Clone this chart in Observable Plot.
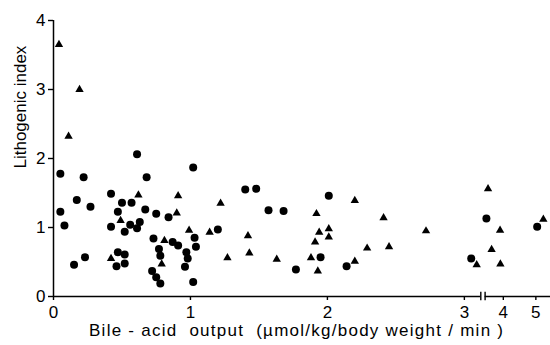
<!DOCTYPE html>
<html>
<head>
<meta charset="utf-8">
<script src="https://cdn.jsdelivr.net/npm/d3@7"></script>
<script src="https://cdn.jsdelivr.net/npm/@observablehq/plot@0.6"></script>
<style>
  html, body { margin: 0; padding: 0; background: #fff; }
</style>
</head>
<body>
<div id="chart"></div>
<script>
// Circles series: [bile-acid output, lithogenic index]
const circleX = [0.05,0.05,0.08,0.15,0.17,0.22,0.23,0.27,0.42,0.42,0.47,0.50,0.46,0.47,0.52,0.52,0.52,0.56,0.57,0.61,0.61,0.63,0.67,0.68,0.73,0.75,0.84,0.72,0.75,0.78,0.77,0.78,0.87,0.91,0.97,0.98,0.96,1.02,1.03,1.04,1.02,1.20,1.40,1.48,1.57,1.68,2.01,1.95,1.77,2.14,3.05,3.48,5.04];
const circleY = [1.78,1.23,1.03,0.46,1.40,1.73,0.57,1.30,1.49,1.01,1.23,1.36,0.44,0.64,0.61,0.48,0.94,1.04,1.36,2.06,0.99,1.08,1.26,1.73,0.84,1.20,1.15,0.37,0.28,0.19,0.69,0.59,0.79,0.74,0.64,0.55,0.43,1.87,0.85,0.72,0.21,0.97,1.55,1.56,1.25,1.24,1.46,0.57,0.39,0.44,0.55,1.13,1.01];
// Triangles series
const triX = [0.04,0.19,0.11,0.42,0.49,0.62,0.81,0.79,0.90,0.91,0.99,1.14,1.22,1.27,1.42,1.43,1.63,1.92,1.94,2.01,2.01,1.91,1.88,1.93,2.20,2.20,2.29,2.41,2.45,2.72,3.09,3.53,3.90,3.64,3.91,5.23];
const triY = [3.65,3.00,2.32,0.55,1.10,1.47,0.81,0.47,1.21,1.46,0.96,0.93,1.35,0.56,0.88,0.63,0.54,1.20,0.93,0.98,0.86,0.79,0.56,0.37,1.39,0.51,0.70,1.14,0.72,0.95,0.46,1.56,0.96,0.68,0.47,1.12];

const xTicks = [0,1,2,3,4,5];
const yTicks = [0,1,2,3,4];
// broken x axis: the two axis pieces, and the break marks
const axisSegments = [{a: 0, b: 3.12}, {a: 3.44, b: 5.45}];
const breakPoints = [3.12, 3.44];

const circles = circleX.map((x, i) => ({x, y: circleY[i]}));
const triangles = triX.map((x, i) => ({x, y: triY[i]}));

// piecewise (broken) x axis, as a scale transform
const xBreak = d3.scaleLinear().domain([0, 3.12, 3.44, 5.45]).range([0, 3.12, 3.1514, 3.6289]);

const font = "Liberation Sans, Arial, sans-serif";

const chart = Plot.plot({
  width: 550,
  height: 345,
  marginLeft: 53,
  marginRight: 0,
  marginTop: 20,
  marginBottom: 49,
  style: {fontFamily: font, background: "#fff", color: "#000"},
  x: {transform: xBreak, domain: [0, 3.6289], axis: null},
  y: {domain: [0, 4]},
  marks: [
    Plot.axisY({ticks: yTicks, tickSize: 5, tickPadding: 3, fontSize: 17, strokeWidth: 1.4, label: null, tickFormat: d => String(d)}),
    Plot.ruleX(xTicks, {x: d => d, y1: 0, y2: -0.058, stroke: "#000", strokeWidth: 1.4}),
    Plot.text(xTicks, {x: d => d, y: () => 0, dy: 9, lineAnchor: "top", fontSize: 17, fill: "#000", text: d => String(d)}),
    Plot.ruleY(axisSegments, {y: () => 0, x1: "a", x2: "b", stroke: "#000", strokeWidth: 1.5}),
    Plot.ruleX(breakPoints, {x: d => d, y1: -0.06, y2: 0.06, stroke: "#000", strokeWidth: 1.4}),
    Plot.ruleX([0], {y1: 0, y2: 4, stroke: "#000", strokeWidth: 1.5}),
    Plot.dot(circles, {x: "x", y: "y", r: 4, fill: "#000", stroke: "none"}),
    Plot.dot(triangles, {x: "x", y: "y", r: 3.1, symbol: "triangle", fill: "#000", stroke: "none"}),
    Plot.text(["Lithogenic index"], {frameAnchor: "left", rotate: -90, dx: -33, dy: 10, fontSize: 17, fill: "#000"}),
    Plot.text(["Bile - acid  output  (\u00b5mol/kg/body weight / min )"], {frameAnchor: "bottom", lineAnchor: "bottom", dx: -6, dy: 39, fontSize: 17, fill: "#000", className: "xlabel"})
  ]
});
d3.select(chart).selectAll(".xlabel text").attr("textLength", 414).attr("lengthAdjust", "spacing");
document.getElementById("chart").appendChild(chart);
</script>
</body>
</html>
